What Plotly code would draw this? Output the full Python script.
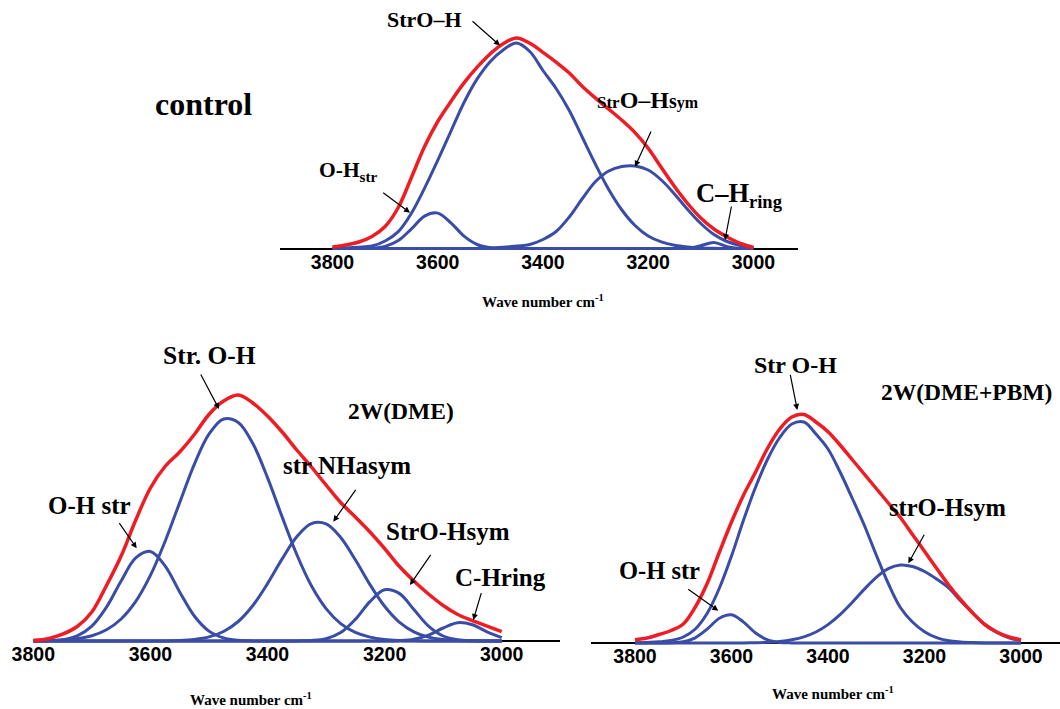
import plotly.graph_objects as go

W, H = 1060, 709

# ---------------- data (heights in arbitrary absorbance units) -------------
WAVENUMBER = [3800, 3775, 3750, 3725, 3700, 3675, 3650, 3625, 3600, 3575, 3550,
              3525, 3500, 3475, 3450, 3425, 3400, 3375, 3350, 3325, 3300, 3275,
              3250, 3225, 3200, 3175, 3150, 3125, 3100, 3075, 3050, 3025, 3000]

TICK_VALUES = [3800, 3600, 3400, 3200, 3000]
TICK_LABELS = ["3800", "3600", "3400", "3200", "3000"]

# control
CONTROL_OH_STR = [0, 0, 0, 0.4, 2.1, 7.9, 19.6, 32.4, 35.4, 25.7, 12.4, 4.0, 0.8, 0.1,
                  0, 0, 0, 0, 0, 0, 0, 0, 0, 0, 0, 0, 0, 0, 0, 0, 0, 0, 0]
CONTROL_STR_OH = [0.2, 0.6, 1.3, 2.5, 7.5, 16.9, 35.3, 60.3, 88.1, 117.2, 146, 169.6, 187.1,
                  198.8, 205.5, 197, 178, 160, 138, 111, 84, 59, 38.5, 23, 12.5, 6.6, 3.2,
                  1.5, 0.6, 0.2, 0, 0, 0]
CONTROL_STR_OH_SYM = [0, 0, 0, 0, 0, 0, 0, 0, 0, 0, 0, 0, 0.5, 1.2, 2.5, 4, 9, 17, 31.5, 50,
                      67, 77.5, 82, 82.5, 78.5, 68.5, 54.5, 39, 25, 14, 7, 3, 1]
CONTROL_CH_RING = [0, 0, 0, 0, 0, 0, 0, 0, 0, 0, 0, 0, 0, 0, 0, 0, 0, 0, 0, 0, 0, 0, 0, 0, 0,
                   0, 0, 0.2, 2.8, 6, 1.8, 0.1, 0]
CONTROL_TOTAL = [1.5, 3.5, 6.5, 12, 22, 41, 71, 102, 127, 147, 165.6, 181.3, 194.8,
                 205, 210.5, 205.2, 196.2, 186.4, 175.5, 162, 150.3, 139.4, 128.3, 115.9,
                 100.2, 81, 62, 45, 30.5, 19.5, 11.5, 5, 1]

# 2W(DME)
DME_OH_STR = [0, 0.3, 1.3, 5.1, 14.8, 33.8, 60.0, 83.1, 89.6, 75.2, 49.1, 25.0, 9.9, 3.1,
              0.7, 0.1, 0, 0, 0, 0, 0, 0, 0, 0, 0, 0, 0, 0, 0, 0, 0, 0, 0]
DME_STR_OH = [0.1, 0.3, 0.9, 2.2, 5.2, 11.2, 22.0, 39.6, 65.6, 99.5, 138.4, 176.7, 206.8,
              222.0, 218.6, 197.4, 163.4, 124.1, 86.5, 55.2, 32.4, 17.4, 8.6, 3.9, 1.6, 0.6,
              0.2, 0, 0, 0, 0, 0, 0]
DME_STR_NH_ASYM = [0, 0, 0, 0, 0, 0, 0, 0, 0, 0.1, 0.5, 1.6, 4.1, 9.5, 19.5, 35.5, 57.4,
                   82.1, 104.3, 117.4, 117.1, 103.5, 81.2, 56.4, 34.7, 18.9, 9.2, 3.9, 1.5,
                   0.5, 0.2, 0, 0]
DME_STR_OH_SYM = [0, 0, 0, 0, 0, 0, 0, 0, 0, 0, 0, 0, 0, 0, 0, 0, 0, 0, 0.1, 0.5, 2.3, 8.4,
                  21.6, 39.4, 51.3, 47.6, 31.5, 14.9, 5.0, 1.2, 0.2, 0, 0]
DME_CH_RING = [0, 0, 0, 0, 0, 0, 0, 0, 0, 0, 0, 0, 0, 0, 0, 0, 0, 0, 0, 0, 0, 0, 0, 0, 0,
               0.3, 1.7, 5.9, 13.0, 18.3, 16.2, 9.1, 3.3]
DME_TOTAL = [0.5, 2.3, 6.8, 14.5, 29, 55.5, 85, 121, 153, 174.5, 189, 206.5, 226.5, 240, 246,
             238, 225, 209, 191, 174, 156, 138.5, 124, 109, 92.5, 74.7, 60, 47, 35.5, 26.5,
             20.3, 14.8, 9.3]

# 2W(DME+PBM)
PBM_OH_STR = [0, 0, 0, 0.2, 1.3, 5.2, 14.1, 24.8, 28.2, 20.9, 10.0, 3.1, 0.6, 0.1,
              0, 0, 0, 0, 0, 0, 0, 0, 0, 0, 0, 0, 0, 0, 0, 0, 0, 0, 0]
PBM_STR_OH = [0.2, 0.6, 1.2, 2.5, 6, 14, 30, 55, 87, 123, 156, 184, 205.5, 219, 221, 209,
              194, 171, 145, 118, 88, 59.5, 35.5, 21, 11.3, 5.3, 2.2, 1, 0.4, 0.1, 0, 0, 0]
PBM_STR_OH_SYM = [0, 0, 0, 0, 0, 0, 0, 0, 0, 0.1, 0.3, 0.7, 1.5, 3.2, 6.1, 11.0, 18.4, 28.4,
                  40.5, 53.6, 65.6, 74.3, 78, 76.5, 71.5, 64, 55, 42, 30, 18.5, 10.5, 5.3, 2.5]
PBM_TOTAL = [3.3, 5, 8.5, 12.5, 19, 36, 60, 91, 121, 148, 171, 195, 214, 226, 228.5, 221,
             211.3, 198, 183.5, 169, 154.5, 140, 125.5, 108.6, 91.7, 74.8, 58, 43.3, 30,
             18.5, 11, 6, 3.3]

# ---------------- styling / layout helpers ----------------
BLUE = "#3a4da6"
RED = "#ee1d24"
SERIF = "Liberation Serif"
SANS = "Liberation Sans"


def px_x(px):
    return px / W


def px_y(py):
    return 1 - py / H


fig = go.Figure()

panels = [
    dict(xa="x", ya="y", comps=[CONTROL_OH_STR, CONTROL_STR_OH, CONTROL_STR_OH_SYM, CONTROL_CH_RING],
         total=CONTROL_TOTAL),
    dict(xa="x2", ya="y2", comps=[DME_OH_STR, DME_STR_OH, DME_STR_NH_ASYM, DME_STR_OH_SYM, DME_CH_RING],
         total=DME_TOTAL),
    dict(xa="x3", ya="y3", comps=[PBM_OH_STR, PBM_STR_OH, PBM_STR_OH_SYM], total=PBM_TOTAL),
]

for p in panels:
    for comp in p["comps"]:
        fig.add_trace(go.Scatter(x=WAVENUMBER, y=comp, mode="lines", xaxis=p["xa"], yaxis=p["ya"],
                                 line=dict(color=BLUE, width=3, shape="spline", smoothing=1),
                                 showlegend=False, hoverinfo="skip"))
    fig.add_trace(go.Scatter(x=WAVENUMBER, y=p["total"], mode="lines", xaxis=p["xa"], yaxis=p["ya"],
                             line=dict(color=RED, width=3.5, shape="spline", smoothing=1),
                             showlegend=False, hoverinfo="skip"))

# panel geometry in pixels: (axis left, axis right, x of 3800, x of 3000, baseline y, top y)
geoms = [
    (280, 798, 332.5, 753.4, 248.5, 22.5),
    (33, 560, 33.3, 501.7, 641, 379),
    (591, 1060, 635, 1021, 643, 381),
]

axis_common = dict(showgrid=False, zeroline=False, showline=True, linecolor="black", linewidth=1.5,
                   ticks="", tickvals=TICK_VALUES, ticktext=TICK_LABELS,
                   tickfont=dict(family=SANS, size=19.5, color="black", weight="bold"),
                   layer="below traces", anchor="free", automargin=False, ticklabelstandoff=-4)

for i, (xl, xr, x38, x30, base, top) in enumerate(geoms):
    scale = (x30 - x38) / 800.0
    r0 = 3800 + (x38 - xl) / scale
    r1 = 3000 - (xr - x30) / scale
    ypad = 4
    xkey = "xaxis" if i == 0 else f"xaxis{i + 1}"
    ykey = "yaxis" if i == 0 else f"yaxis{i + 1}"
    fig.update_layout({
        xkey: dict(domain=[px_x(xl), px_x(xr)], range=[r0, r1], position=px_y(base), **axis_common),
        ykey: dict(domain=[px_y(base + ypad), px_y(top)], range=[-ypad, base - top],
                   visible=False, automargin=False, anchor="x" if i == 0 else f"x{i + 1}"),
    })

annotations = []


def label(text, cx, cy, size):
    annotations.append(dict(text=text, x=px_x(cx), y=px_y(cy), xref="paper", yref="paper",
                            xanchor="center", yanchor="middle", showarrow=False,
                            font=dict(family=SERIF, size=size, color="black")))


def arrow(tx, ty, hx, hy):
    annotations.append(dict(text="", x=px_x(hx), y=px_y(hy), xref="paper", yref="paper",
                            ax=tx - hx, ay=ty - hy, axref="pixel", ayref="pixel",
                            showarrow=True, arrowhead=2, arrowsize=1, arrowwidth=1.2,
                            arrowcolor="black", standoff=0, startstandoff=0))


# control panel
label("<b>control</b>", 203.5, 103.5, 32)
label("<b>StrO–H</b>", 424.5, 19.5, 22)
arrow(471, 20, 500, 45.5)
label("<b><span style='font-size:17px'>Str</span>O–H<span style='font-size:20px'>s</span>"
      "<span style='font-size:16px'>ym</span></b>", 648, 100, 24)
arrow(651.7, 130, 635, 166.7)
label("<b>O-H<sub>str</sub></b>", 348, 171, 21.5)
arrow(381.7, 191.7, 410, 212.7)
label("<b>C–H<sub>ring</sub></b>", 739, 195, 26.5)
arrow(731.7, 205, 725, 240)
label("<b>Wave number cm<sup>-1</sup></b>", 543, 301, 15)

# 2W(DME) panel
label("<b>Str. O-H</b>", 209, 355, 25.5)
arrow(200, 373, 219, 409)
label("<b>2W(DME)</b>", 400.8, 410.8, 23.5)
label("<b>str NHasym</b>", 346.7, 465, 25)
arrow(356.7, 488.3, 333.3, 521.7)
label("<b>O-H str</b>", 89, 505, 25)
arrow(118.3, 521.7, 136.7, 548.3)
label("<b>StrO-Hsym</b>", 448, 531, 25)
arrow(431.7, 553.3, 410, 585)
label("<b>C-Hring</b>", 500, 577.5, 25)
arrow(481.7, 591.7, 473.3, 620)
label("<b>Wave number cm<sup>-1</sup></b>", 250.9, 699, 15)

# 2W(DME+PBM) panel
label("<b>Str O-H</b>", 795.5, 365, 24)
arrow(790, 373.3, 797.3, 410)
label("<b>2W(DME+PBM)</b>", 966.7, 391.7, 23.5)
label("<b>strO-Hsym</b>", 947.5, 507.5, 24.5)
arrow(925, 533.3, 908.3, 563.3)
label("<b>O-H str</b>", 659, 570, 24.5)
arrow(686.7, 588.3, 718.3, 610.7)
label("<b>Wave number cm<sup>-1</sup></b>", 833.3, 693.3, 15)

fig.update_layout(template="none", width=W, height=H, margin=dict(l=0, r=0, t=0, b=0, pad=0),
                  autosize=False, paper_bgcolor="white", plot_bgcolor="white", showlegend=False,
                  annotations=annotations)

# remove the browser's default 8px page margin so the figure fills the window exactly
fig.write_html("out.html", config={"displayModeBar": False},
               post_script="document.body.style.margin='0';")
